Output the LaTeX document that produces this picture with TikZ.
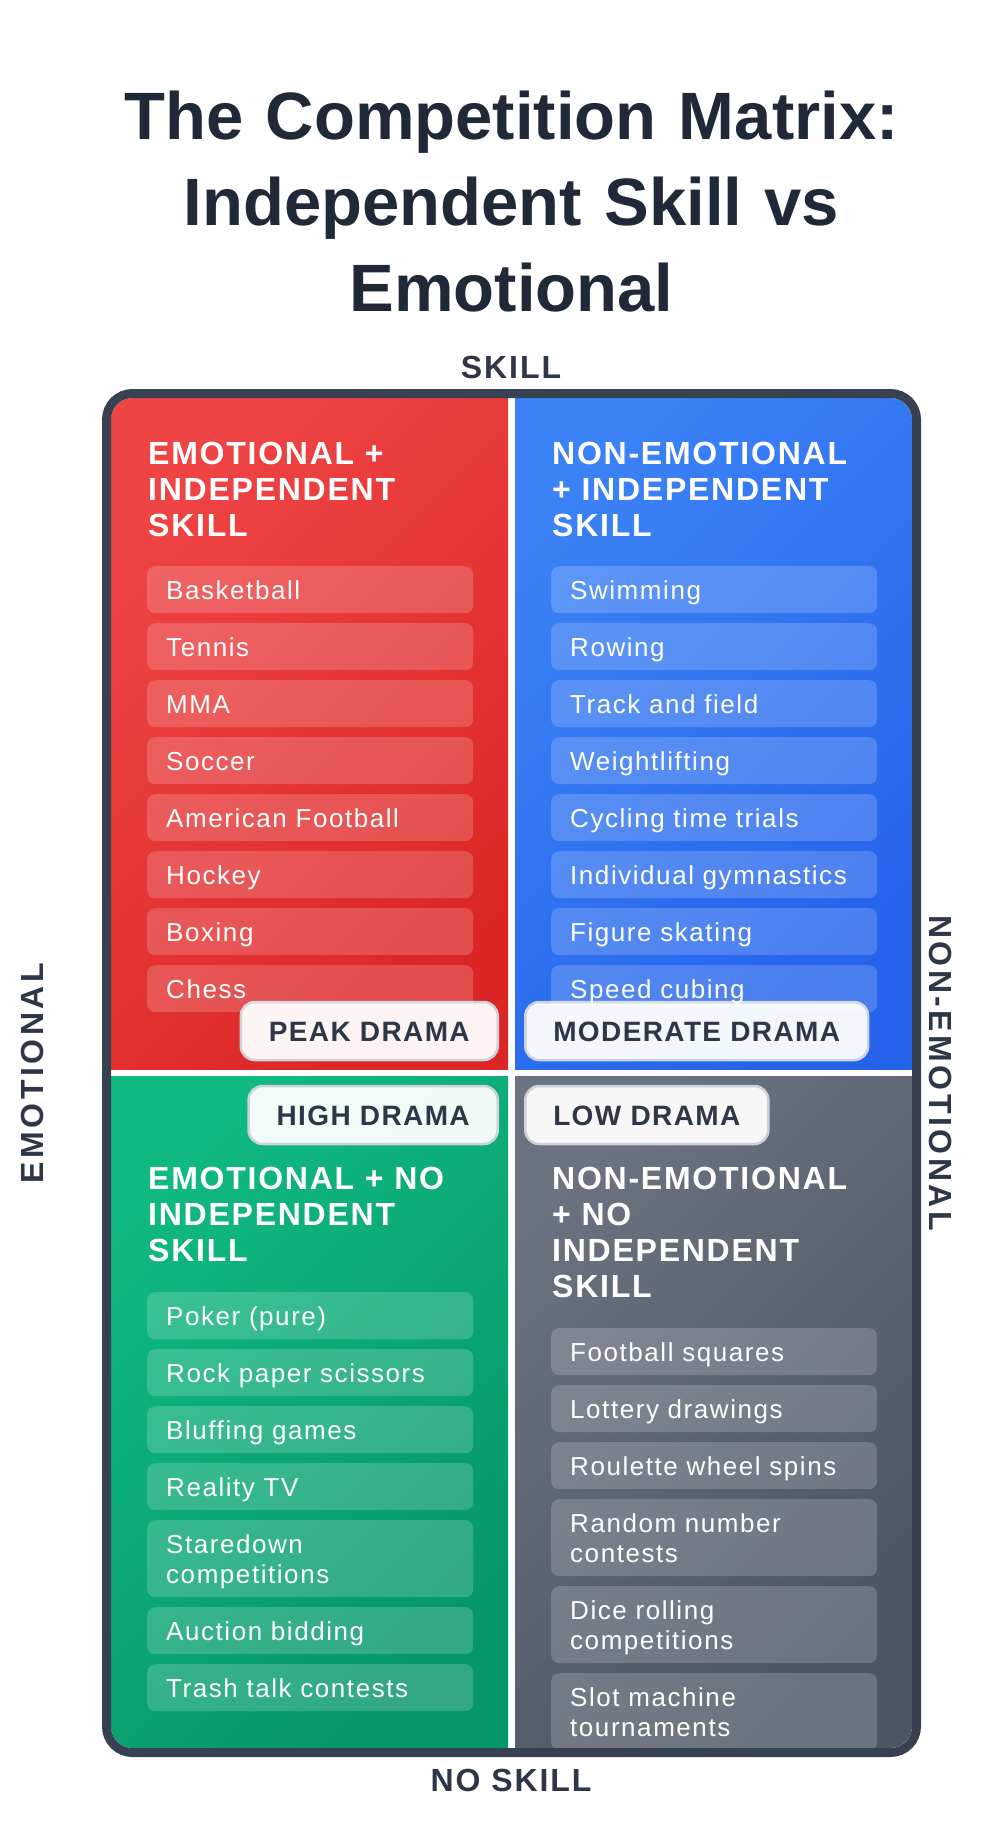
\documentclass[tikz,border=0pt]{standalone}
\usepackage{fontspec}
\setmainfont{Liberation Sans}
\newfontfamily\titlefont{Liberation Sans}
\newfontfamily\headfont[LetterSpace=5.5]{Liberation Sans}
\newfontfamily\itemfont[LetterSpace=6]{Liberation Sans}
\newfontfamily\badgefont[LetterSpace=5]{Liberation Sans}
\newfontfamily\axisfont[LetterSpace=6]{Liberation Sans}
\newfontfamily\vaxisfont[LetterSpace=11]{Liberation Sans}
\definecolor{redA}{HTML}{EF4444}
\definecolor{redB}{HTML}{DC2626}
\definecolor{blueA}{HTML}{3B82F6}
\definecolor{blueB}{HTML}{2563EB}
\definecolor{greenA}{HTML}{10B981}
\definecolor{greenB}{HTML}{059669}
\definecolor{grayA}{HTML}{6B7280}
\definecolor{grayB}{HTML}{4B5563}
\definecolor{framecol}{HTML}{374151}
\definecolor{ink}{HTML}{2D3748}
\definecolor{titleink}{HTML}{1F2937}
\definecolor{badgeline}{HTML}{CBD2DA}
\newcommand\istrut{\rule[-5.4pt]{0pt}{29.4pt}}
\tikzset{
  itembox/.style={anchor=north west, rounded corners=8pt, fill=white, fill opacity=0.18,
    text opacity=1, text=white, text width=288pt, inner xsep=19pt, inner ysep=8.8pt,
    align=left, execute at begin node=\istrut,
    font=\itemfont\fontsize{26}{30}\selectfont},
  headtext/.style={anchor=base west, inner sep=0pt, text width=340pt, align=left,
    text=white, font=\headfont\bfseries\fontsize{32}{36}\selectfont},
  badge/.style={rounded corners=14pt, fill=white, fill opacity=0.95, text opacity=1,
    draw=badgeline, draw opacity=1, line width=2.5pt, text=ink, minimum height=58pt,
    inner xsep=28pt, inner ysep=0pt, text height=20pt, text depth=0pt,
    font=\badgefont\bfseries\fontsize{28}{32}\selectfont},
  axislabel/.style={inner sep=0pt, text height=23pt, text depth=0pt, text=ink,
    font=\axisfont\bfseries\fontsize{32}{36}\selectfont},
  vaxislabel/.style={axislabel, font=\vaxisfont\bfseries\fontsize{32}{36}\selectfont},
  titletext/.style={anchor=base, inner sep=0pt, text width=900pt, align=center,
    text=titleink, font=\titlefont\bfseries\fontsize{67}{86}\selectfont},
  quad/.style n args={2}{top color=#1, bottom color=#2, shading angle=45}
}
\begin{document}
\begin{tikzpicture}[x=1pt,y=-1pt]
\useasboundingbox (0,0) rectangle (1007,1845);
\fill[white] (0,0) rectangle (1007,1845);

% title
\node[titletext] (title) at (511.5,139) {The Competition Matrix:\\Independent Skill vs\\Emotional};

% axis labels
\node[axislabel] (skill) at (511,367) {SKILL};
\node[axislabel] (noskill) at (511,1780) {NO SKILL};
\node[vaxislabel, rotate=90] (emo) at (32,1073) {EMOTIONAL};
\node[vaxislabel, rotate=-90] (nonemo) at (941,1073) {NON-EMOTIONAL};

\begin{scope}
\clip[rounded corners=22pt] (111,398) rectangle (912,1748);
\shade[quad={redA}{redB}] (111,398) rectangle (508,1069);
\shade[quad={blueA}{blueB}] (515,398) rectangle (912,1069);
\shade[quad={greenA}{greenB}] (111,1076) rectangle (508,1748);
\shade[quad={grayA}{grayB}] (515,1076) rectangle (912,1748);

% headings
\node[headtext] (hTL) at (148,464.5) {EMOTIONAL +\\INDEPENDENT\\SKILL};
\node[headtext] (hTR) at (552,464.5) {NON-EMOTIONAL\\+ INDEPENDENT\\SKILL};
\node[headtext] (hBL) at (148,1189) {EMOTIONAL + NO\\INDEPENDENT\\SKILL};
\node[headtext] (hBR) at (552,1189) {NON-EMOTIONAL\\+ NO\\INDEPENDENT\\SKILL};

% badges
\node[badge, anchor=east] (peak) at (499,1031) {PEAK DRAMA};
\node[badge, anchor=west] (moderate) at (524,1031) {MODERATE DRAMA};
\node[badge, anchor=east] (high) at (499,1115) {HIGH DRAMA};
\node[badge, anchor=west] (low) at (524,1115) {LOW DRAMA};

% top-left items
\node[itembox] (tl1) at (147,566) {Basketball};
\node[itembox] (tl2) at (147,623) {Tennis};
\node[itembox] (tl3) at (147,680) {MMA};
\node[itembox] (tl4) at (147,737) {Soccer};
\node[itembox] (tl5) at (147,794) {American Football};
\node[itembox] (tl6) at (147,851) {Hockey};
\node[itembox] (tl7) at (147,908) {Boxing};
\node[itembox] (tl8) at (147,965) {Chess};

% top-right items
\node[itembox] (tr1) at (551,566) {Swimming};
\node[itembox] (tr2) at (551,623) {Rowing};
\node[itembox] (tr3) at (551,680) {Track and field};
\node[itembox] (tr4) at (551,737) {Weightlifting};
\node[itembox] (tr5) at (551,794) {Cycling time trials};
\node[itembox] (tr6) at (551,851) {Individual gymnastics};
\node[itembox] (tr7) at (551,908) {Figure skating};
\node[itembox] (tr8) at (551,965) {Speed cubing};

% bottom-left items
\node[itembox] (bl1) at (147,1292) {Poker (pure)};
\node[itembox] (bl2) at (147,1349) {Rock paper scissors};
\node[itembox] (bl3) at (147,1406) {Bluffing games};
\node[itembox] (bl4) at (147,1463) {Reality TV};
\node[itembox] (bl5) at (147,1520) {Staredown\\\istrut competitions};
\node[itembox] (bl6) at (147,1607) {Auction bidding};
\node[itembox] (bl7) at (147,1664) {Trash talk contests};

% bottom-right items
\node[itembox] (br1) at (551,1328) {Football squares};
\node[itembox] (br2) at (551,1385) {Lottery drawings};
\node[itembox] (br3) at (551,1442) {Roulette wheel spins};
\node[itembox] (br4) at (551,1499) {Random number\\\istrut contests};
\node[itembox] (br5) at (551,1586) {Dice rolling\\\istrut competitions};
\node[itembox] (br6) at (551,1673) {Slot machine\\\istrut tournaments};
\end{scope}

% frame
\draw[framecol, line width=9pt, rounded corners=26pt] (106.5,393.5) rectangle (916.5,1752.5);
\end{tikzpicture}
\end{document}
